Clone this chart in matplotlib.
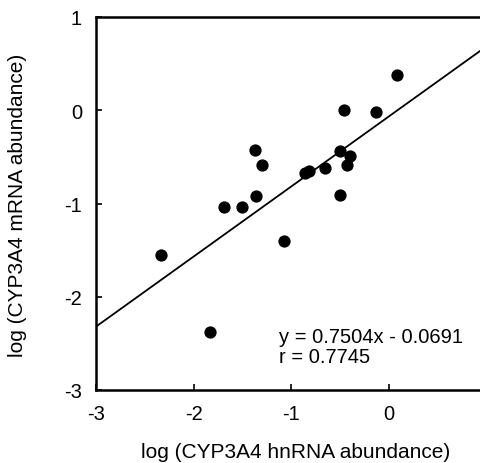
import matplotlib
matplotlib.use("Agg")
import matplotlib.pyplot as plt
import numpy as np

plt.rcParams['font.family'] = ['Liberation Sans', 'DejaVu Sans']

# data
hnrna = [0.09, -0.46, -0.13, -1.37, -0.50, -0.40, -0.43, -1.30, -0.86, -0.82,
         -0.65, -0.50, -1.36, -1.69, -1.50, -1.07, -2.33, -1.83]
mrna = [0.38, 0.00, -0.02, -0.43, -0.44, -0.49, -0.59, -0.59, -0.67, -0.65,
        -0.62, -0.91, -0.92, -1.04, -1.04, -1.40, -1.55, -2.38]
slope = 0.7504
intercept = -0.0691
r_value = 0.7745
xticks = [-3, -2, -1, 0]
xticklabels = ['-3', '-2', '-1', '0']
yticks = [-3, -2, -1, 0, 1]
yticklabels = ['-3', '-2', '-1', '0', '1']

fig = plt.figure(figsize=(4.81, 4.64), dpi=100)
ax = fig.add_axes([96/481, 73/464, 390/481, 373/464])

ax.scatter(hnrna, mrna, s=78, color='black', zorder=3, linewidths=0)
xl = np.array([-3, 1])
ax.plot(xl, slope * xl + intercept, color='black', lw=1.3)

ax.set_xlim(-3, 1)
ax.set_ylim(-3, 1)
ax.set_xticks(xticks)
ax.set_xticklabels(xticklabels)
ax.set_yticks(yticks)
ax.set_yticklabels(yticklabels)
ax.tick_params(direction='in', length=4, width=1.2, labelsize=14.5, pad=10)
for s in ax.spines.values():
    s.set_linewidth(1.8)

ax.text(-1.12, -2.48, f'y = {slope:.4f}x - {abs(intercept):.4f}', fontsize=14.5,
        va='baseline', ha='left')
ax.text(-1.12, -2.70, f'r = {r_value:.4f}', fontsize=14.5, va='baseline', ha='left')

fig.text(296/481, 1 - 453/464, 'log (CYP3A4 hnRNA abundance)', fontsize=15,
         ha='center', va='center')
fig.text(18/481, 1 - 205/464, 'log (CYP3A4 mRNA abundance)', fontsize=15,
         ha='center', va='center', rotation=90)

fig.savefig('out.png', dpi=100)
